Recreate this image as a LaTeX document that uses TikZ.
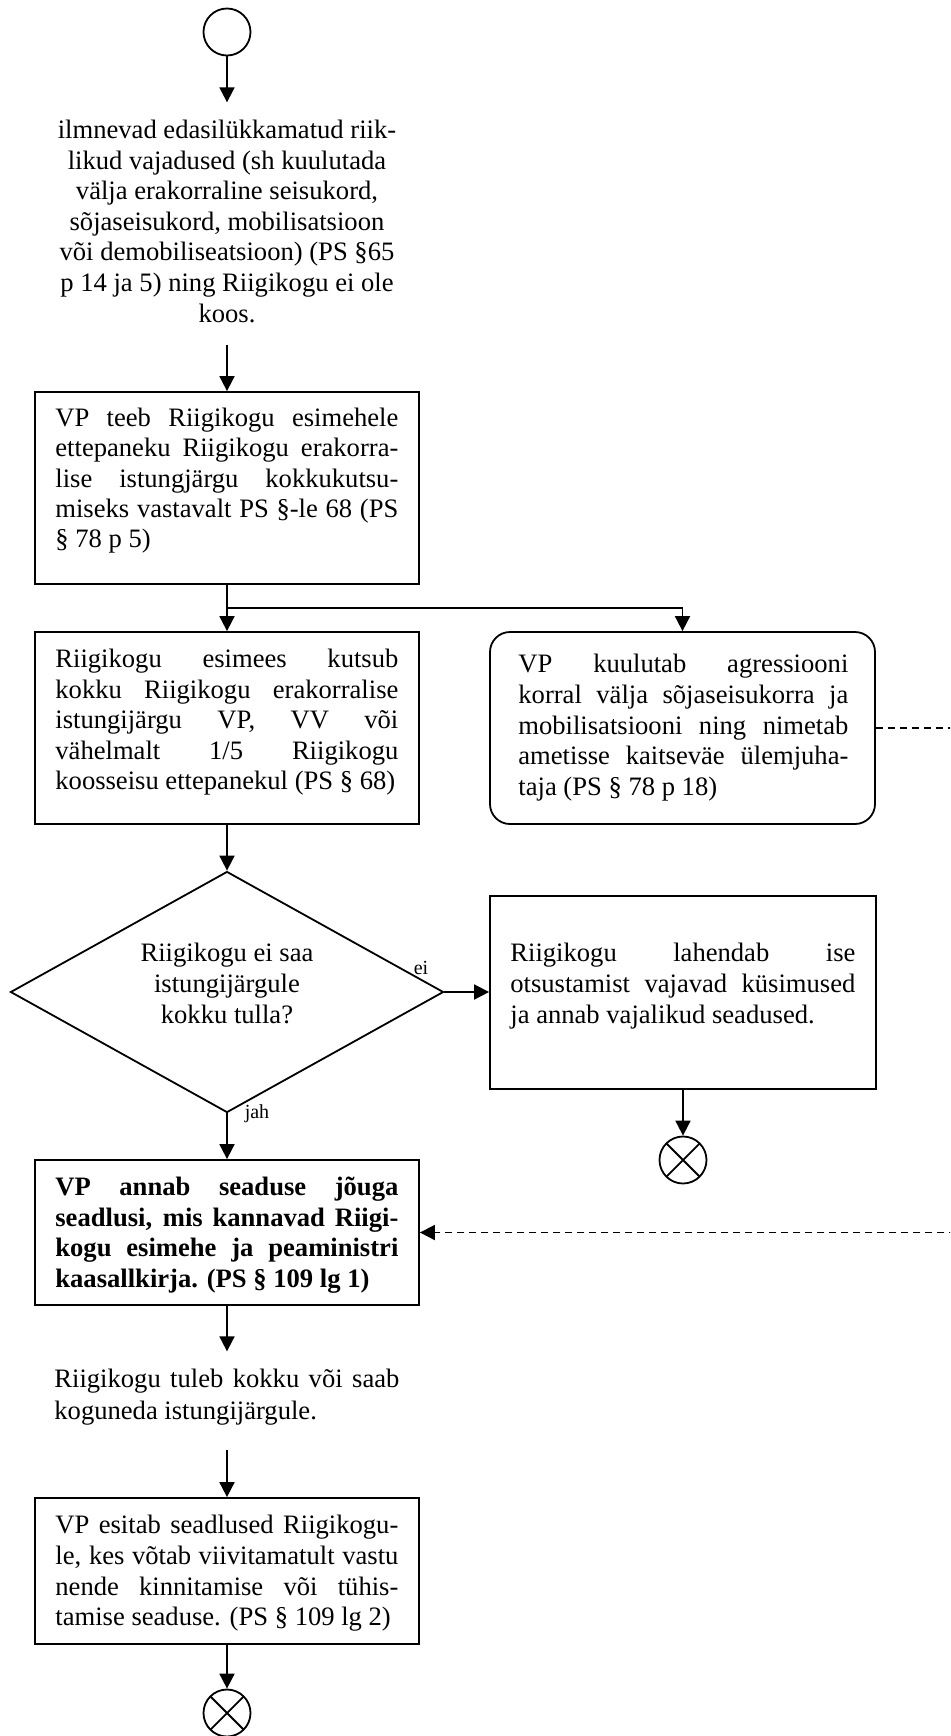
\documentclass[tikz,border=0pt]{standalone}
\usepackage{fontspec}
\setmainfont{Liberation Serif}
\usetikzlibrary{arrows.meta,shapes.geometric}
\newcommand\jl[1]{\makebox[\linewidth][s]{#1}\\}
\newcommand\blk[3]{\parbox[t]{#1}{\fontsize{13.3pt}{#2}\selectfont #3}}
\newcommand\cblk[3]{\parbox[t]{#1}{\centering\fontsize{13.3pt}{#2}\selectfont #3}}
\begin{document}
\begin{tikzpicture}[x=0.5pt,y=-0.5pt,
  boxs/.style={draw,line width=0.9pt,rectangle,inner sep=0pt},
  rboxs/.style={boxs,rounded corners=10pt},
  dias/.style={draw,line width=0.9pt,diamond,inner sep=0pt,minimum width=216.5pt,minimum height=120.5pt},
  term/.style={draw,line width=0.9pt,circle,inner sep=0pt,minimum size=23.5pt},
  endt/.style={term,path picture={\draw[line width=0.9pt] (path picture bounding box.north west) -- (path picture bounding box.south east) (path picture bounding box.north east) -- (path picture bounding box.south west);}},
  txt/.style={inner sep=0pt,anchor=base west},
  ctxt/.style={inner sep=0pt,anchor=base},
  lbl/.style={inner sep=0pt,anchor=base,font=\fontsize{10pt}{12pt}\selectfont},
  arr/.style={line width=0.9pt,-{Triangle[length=7.5pt,width=7.5pt]}},
  dashl/.style={line width=0.9pt,dash pattern=on 3.5pt off 2.5pt}]
\useasboundingbox (0,0) rectangle (950,1736);
\clip (0,0) rectangle (950,1736);

\node[term] (start) at (227,32) {};
\node[ctxt] (top) at (227,138.5) {\cblk{190pt}{15.3pt}{ilmnevad edasilükkamatud riik-\\likud vajadused (sh kuulutada\\välja erakorraline seisukord,\\sõjaseisukord, mobilisatsioon\\või demobiliseatsioon) (PS §65\\p 14 ja 5) ning Riigikogu ei ole\\koos.}};

\node[boxs,minimum width=192pt,minimum height=96pt] (b1) at (227,488) {};
\node[txt] (b1t) at (55,426.7) {\blk{171.5pt}{15.1pt}{\jl{VP teeb Riigikogu esimehele}\jl{ettepaneku Riigikogu erakorra-}\jl{lise istungjärgu kokkukutsu-}\jl{miseks vastavalt PS §-le 68 (PS}§ 78 p 5)}};

\node[boxs,minimum width=192pt,minimum height=96pt] (b2) at (227,728) {};
\node[txt] (b2t) at (55,667.5) {\blk{171.5pt}{15.3pt}{\jl{Riigikogu esimees kutsub}\jl{kokku Riigikogu erakorralise}\jl{istungijärgu VP, VV või}\jl{vähelmalt 1/5 Riigikogu}koosseisu ettepanekul (PS § 68)}};

\node[rboxs,minimum width=192.5pt,minimum height=96pt] (rb) at (682.5,728) {};
\node[txt] (rbt) at (518,672.5) {\blk{165pt}{15.4pt}{\jl{VP kuulutab agressiooni}\jl{korral välja sõjaseisukorra ja}\jl{mobilisatsiooni ning nimetab}\jl{ametisse kaitseväe ülemjuha-}taja (PS § 78 p 18)}};

\node[dias] (d) at (227,992) {};
\node[ctxt] (dt) at (227,961.5) {\cblk{125pt}{15.5pt}{Riigikogu ei saa\\istungijärgule\\kokku tulla?}};
\node[lbl] (lei) at (421,974) {ei};
\node[lbl] (ljah) at (257,1118) {jah};

\node[boxs,minimum width=193pt,minimum height=96.5pt] (b5) at (683,992.5) {};
\node[txt] (b5t) at (510,961.5) {\blk{172.5pt}{15.5pt}{\jl{Riigikogu lahendab ise}\jl{otsustamist vajavad küsimused}ja annab vajalikud seadused.}};
\node[endt] (end1) at (683,1160) {};

\node[boxs,minimum width=192pt,minimum height=72.5pt] (b3) at (227,1232.5) {};
\node[txt] (b3t) at (55,1195.5) {\blk{171.5pt}{15.3pt}{\bfseries\jl{VP annab seaduse jõuga}\jl{seadlusi, mis kannavad Riigi-}\jl{kogu esimehe ja peaministri}kaasallkirja. (PS § 109 lg 1)}};

\node[txt] (t6) at (54,1387.5) {\blk{172.5pt}{15.8pt}{\jl{Riigikogu tuleb kokku või saab}koguneda istungijärgule.}};

\node[boxs,minimum width=192pt,minimum height=73pt] (b4) at (227,1571) {};
\node[txt] (b4t) at (55,1533.5) {\blk{171.5pt}{15.4pt}{\jl{VP esitab seadlused Riigikogu-}\jl{le, kes võtab viivitamatult vastu}\jl{nende kinnitamise või tühis-}tamise seaduse. (PS § 109 lg 2)}};
\node[endt] (end2) at (227,1713) {};

\draw[arr,shorten >=8.65pt] (start) -- (top.north);
\draw[arr,shorten <=11pt] (top.south) -- (b1.north);
\draw[arr] (b1) -- (b2);
\coordinate (br) at (227,608);
\draw[arr] (br) -| (rb.north);
\draw[arr] (b2) -- (d);
\draw[arr] (d.east) -- (d.east -| b5.west);
\draw[arr] (d.south) -- (b3.north);
\draw[arr] (b5) -- (end1);
\draw[arr,shorten >=8.65pt] (b3.south) -- (b3.south |- t6.north);
\draw[arr,shorten <=12.5pt] (b4.north |- t6.south) -- (b4.north);
\draw[arr] (b4) -- (end2);
\draw[dashl,arr] (rb.east) -- ++(100,0) |- (b3.east);
\end{tikzpicture}
\end{document}
